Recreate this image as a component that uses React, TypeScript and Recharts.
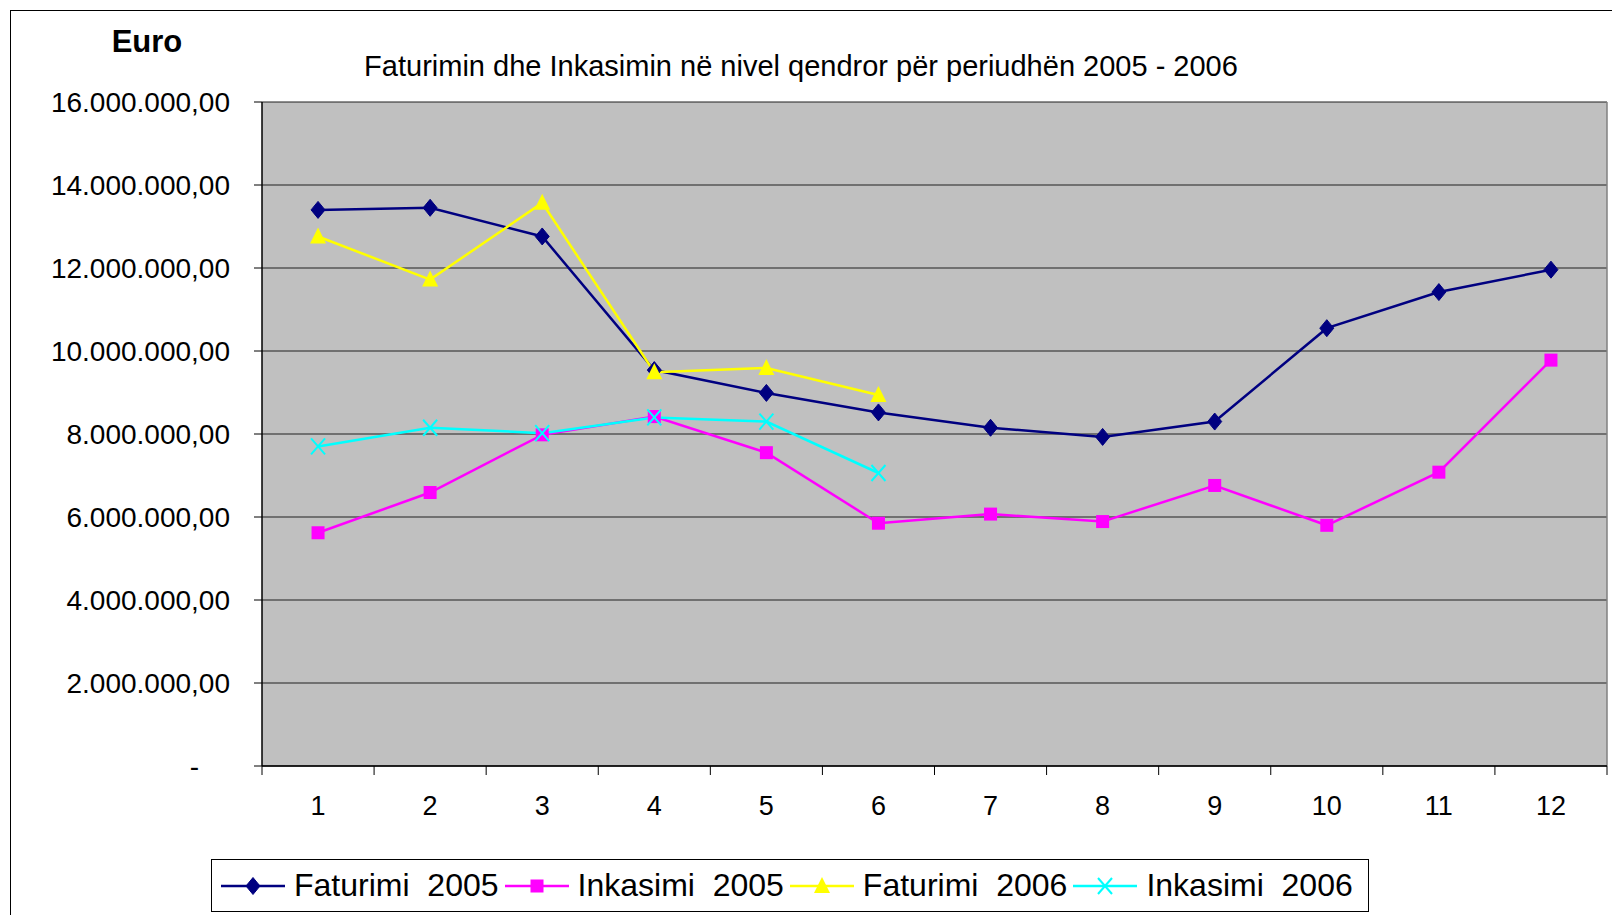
import React from "react";
import { LineChart, Line, XAxis, YAxis, CartesianGrid, ReferenceLine } from "recharts";

const months = [1, 2, 3, 4, 5, 6, 7, 8, 9, 10, 11, 12];
const faturimi2005 = [13400000, 13450000, 12760000, 9540000, 8990000, 8520000, 8150000, 7930000, 8300000, 10550000, 11420000, 11960000];
const inkasimi2005 = [5620000, 6590000, 7980000, 8420000, 7550000, 5850000, 6070000, 5890000, 6760000, 5800000, 7080000, 9780000];
const faturimi2006 = [12760000, 11720000, 13570000, 9490000, 9590000, 8940000];
const inkasimi2006 = [7700000, 8150000, 8020000, 8400000, 8300000, 7060000];
const yTicks = [0, 2000000, 4000000, 6000000, 8000000, 10000000, 12000000, 14000000, 16000000];
const xBoundaryTicks = [0.5, 1.5, 2.5, 3.5, 4.5, 5.5, 6.5, 7.5, 8.5, 9.5, 10.5, 11.5, 12.5];
const seriesNames = ["Faturimi  2005", "Inkasimi  2005", "Faturimi  2006", "Inkasimi  2006"];
const titleText = "Faturimin dhe Inkasimin në nivel qendror për periudhën 2005 - 2006";
const unitText = "Euro";

const FONT = '"Liberation Sans", Arial, sans-serif';

const data = months.map((m, i) => ({
  month: m,
  f05: faturimi2005[i],
  i05: inkasimi2005[i],
  f06: i < faturimi2006.length ? faturimi2006[i] : null,
  i06: i < inkasimi2006.length ? inkasimi2006[i] : null,
}));

const xTicks = [...xBoundaryTicks, ...months].sort((a, b) => a - b);

function fmt(v: number): string {
  if (v === 0) return "-";
  const s = Math.round(v).toString();
  let out = "";
  for (let i = 0; i < s.length; i++) {
    const fromEnd = s.length - i;
    out += s[i];
    if (fromEnd > 1 && (fromEnd - 1) % 3 === 0) out += ".";
  }
  return out + ",00";
}

type Shape = "diamond" | "square" | "triangle" | "x";

function Marker({ shape, cx, cy, color }: { shape: Shape; cx: number; cy: number; color: string }) {
  if (shape === "diamond")
    return <path d={`M${cx},${cy - 8.5} L${cx + 7},${cy} L${cx},${cy + 8.5} L${cx - 7},${cy} Z`} fill={color} stroke={color} strokeWidth={1} />;
  if (shape === "square")
    return <rect x={cx - 6.5} y={cy - 6.5} width={13} height={13} fill={color} />;
  if (shape === "triangle")
    return <path d={`M${cx},${cy - 9} L${cx + 8},${cy + 7} L${cx - 8},${cy + 7} Z`} fill={color} />;
  return (
    <g stroke={color} strokeWidth={2}>
      <line x1={cx - 7} y1={cy - 8} x2={cx + 7} y2={cy + 8} />
      <line x1={cx + 7} y1={cy - 8} x2={cx - 7} y2={cy + 8} />
    </g>
  );
}

const series = [
  { key: "f05", name: seriesNames[0], color: "#000080", shape: "diamond" as Shape },
  { key: "i05", name: seriesNames[1], color: "#FF00FF", shape: "square" as Shape },
  { key: "f06", name: seriesNames[2], color: "#FFFF00", shape: "triangle" as Shape },
  { key: "i06", name: seriesNames[3], color: "#00FFFF", shape: "x" as Shape },
];

function makeDot(shape: Shape, color: string) {
  return (props: any) => {
    const { cx, cy, index, value } = props;
    if (cx == null || cy == null || value == null || Number.isNaN(cy)) return <g key={`d${index}`} />;
    return (
      <g key={`d${index}`}>
        <Marker shape={shape} cx={cx} cy={cy} color={color} />
      </g>
    );
  };
}

function XTick(props: any) {
  const { x, y, payload } = props;
  const v = payload.value;
  if (Number.isInteger(v)) {
    return (
      <text x={x} y={y + 40} textAnchor="middle" dominantBaseline="central" fontSize={27} fontFamily={FONT} fill="#000">
        {v}
      </text>
    );
  }
  return <line x1={x} y1={y} x2={x} y2={y + 9} stroke="#000" strokeWidth={1} />;
}

function YTick(props: any) {
  const { x, y, payload } = props;
  const v = payload.value;
  const label = fmt(v);
  return (
    <text
      x={v === 0 ? x - 31 : x}
      y={y}
      textAnchor="end"
      dominantBaseline="central"
      fontSize={28}
      fontFamily={FONT}
      fill="#000"
    >
      {label}
    </text>
  );
}

export default function App() {
  return (
    <div style={{ position: "fixed", left: 0, top: 0, width: 1612, height: 915, overflow: "hidden", background: "#fff" }}>
      <style>{`body{overflow:hidden;margin:8px}`}</style>
      <div style={{ position: "absolute", left: 10, top: 10, width: 1700, height: 1000, border: "1.5px solid #000" }} />
      <div style={{ position: "absolute", left: 0, top: 0 }}>
        <LineChart width={1612} height={915} data={data} margin={{ top: 102, right: 5, left: 0, bottom: 89 }}>
          <CartesianGrid vertical={false} stroke="#202020" strokeWidth={1.2} fill="#C0C0C0" fillOpacity={1} />
          <XAxis
            dataKey="month"
            type="number"
            domain={[0.5, 12.5]}
            ticks={xTicks}
            interval={0}
            tick={<XTick />}
            tickLine={false}
            tickSize={0}
            tickMargin={0}
            axisLine={{ stroke: "#000", strokeWidth: 1.5 }}
            height={60}
            allowDecimals
          />
          <YAxis
            type="number"
            domain={[0, 16000000]}
            ticks={yTicks}
            interval={0}
            width={262}
            tickSize={8}
            tickMargin={24}
            tick={<YTick />}
            tickLine={{ stroke: "#000" }}
            axisLine={{ stroke: "#000", strokeWidth: 1.5 }}
          />
          <ReferenceLine x={12.5} stroke="#808080" strokeWidth={1.5} />
          {series.map((s) => (
            <Line
              key={s.key}
              dataKey={s.key}
              name={s.name}
              type="linear"
              stroke={s.color}
              strokeWidth={2.5}
              dot={makeDot(s.shape, s.color)}
              activeDot={false}
              isAnimationActive={false}
              connectNulls={false}
            />
          ))}
        </LineChart>
      </div>
      <div
        style={{
          position: "absolute",
          left: 0,
          width: 1602,
          top: 48,
          textAlign: "center",
          fontFamily: FONT,
          fontSize: 29,
          lineHeight: "36px",
          color: "#000",
          whiteSpace: "pre",
        }}
      >
        {titleText}
      </div>
      <div
        style={{
          position: "absolute",
          left: 107,
          width: 80,
          top: 24,
          textAlign: "center",
          fontFamily: FONT,
          fontSize: 31,
          fontWeight: "bold",
          lineHeight: "36px",
          color: "#000",
        }}
      >
        {unitText}
      </div>
      <div
        style={{
          position: "absolute",
          left: 211,
          top: 859,
          width: 1158,
          height: 53,
          boxSizing: "border-box",
          border: "1.5px solid #000",
          display: "flex",
          alignItems: "center",
          paddingLeft: 9,
          fontFamily: FONT,
          fontSize: 32,
          color: "#000",
        }}
      >
        {series.map((s) => (
          <div key={s.key} style={{ display: "flex", alignItems: "center", marginRight: 6 }}>
            <svg width={64} height={24} style={{ display: "block" }}>
              <line x1={0} y1={12} x2={64} y2={12} stroke={s.color} strokeWidth={2.5} />
              <Marker shape={s.shape} cx={32} cy={12} color={s.color} />
            </svg>
            <span style={{ marginLeft: 9, whiteSpace: "pre" }}>{s.name}</span>
          </div>
        ))}
      </div>
    </div>
  );
}
